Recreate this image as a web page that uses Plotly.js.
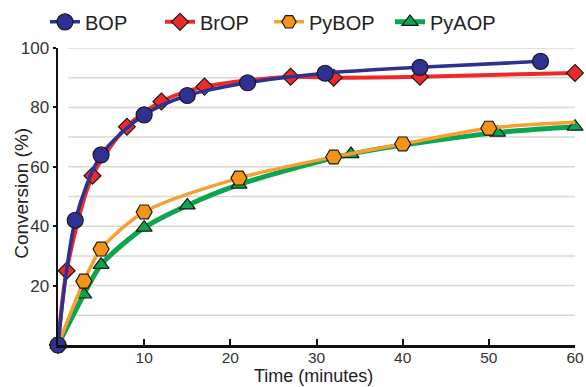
<!DOCTYPE html>
<html>
<head>
<meta charset="utf-8">
<script src="https://cdn.plot.ly/plotly-3.0.1.min.js"></script>
<style>html,body{margin:0;padding:0;background:#fff;}#chart{width:586px;height:387px;}</style>
</head>
<body>
<div id="chart"></div>
<script>
// Data
const bopTime = [0, 2, 5, 10, 15, 22, 31, 42, 56];
const bopConv = [0, 42, 64, 77.5, 84, 88.3, 91.5, 93.5, 95.5];

const bropTime = [0, 1, 4, 8, 12, 17, 27, 32, 42, 60];
const bropConv = [0, 25, 57, 73.5, 82, 87, 90.3, 90, 90.3, 91.6];

const pybopTime = [0, 3, 5, 10, 21, 32, 40, 50, 60];
const pybopConv = [0, 21.5, 32.3, 44.8, 56.2, 63.3, 67.7, 73, 75];
const pybopMarked = [true, true, true, true, true, true, true, true, false];

const pyaopTime = [0, 3, 5, 10, 15, 21, 34, 51, 60];
const pyaopConv = [0, 17, 27, 39.5, 47, 54, 64.3, 71.5, 73.5];

const yTicks = [20, 40, 60, 80, 100];
const xTicks = [10, 20, 30, 40, 50, 60];
const gridLevels = [10, 20, 30, 40, 50, 60, 70, 80, 90, 100];
const xTitle = 'Time (minutes)';
const yTitle = 'Conversion (%)';

const outline = {color: '#1a1a1a', width: 1.2};

const traces = [
  {
    name: 'PyAOP', x: pyaopTime, y: pyaopConv, mode: 'lines+markers', legend: 'legend4', cliponaxis: false,
    line: {color: '#0aa64f', width: 5, shape: 'spline', smoothing: 0.8},
    marker: {symbol: 'triangle-up', size: 14, color: '#0aa64f', line: outline}
  },
  {
    name: 'PyBOP', x: pybopTime, y: pybopConv, mode: 'lines+markers', legend: 'legend3', cliponaxis: false,
    line: {color: '#f5a030', width: 3.5, shape: 'spline', smoothing: 0.8},
    marker: {symbol: 'hexagon2', size: pybopMarked.map(m => m ? 16 : 0), color: '#f39419', opacity: 1, line: outline}
  },
  {
    name: 'BrOP', x: bropTime, y: bropConv, mode: 'lines+markers', legend: 'legend2', cliponaxis: false,
    line: {color: '#ec2a2a', width: 4, shape: 'spline', smoothing: 0.8},
    marker: {symbol: 'diamond', size: 13, color: '#ec2a2a', line: outline}
  },
  {
    name: 'BOP', x: bopTime, y: bopConv, mode: 'lines+markers', legend: 'legend', cliponaxis: false,
    line: {color: '#2e3192', width: 3.5, shape: 'spline', smoothing: 0.8},
    marker: {symbol: 'circle', size: 16, color: '#2e3192', line: outline}
  }
];

function leg(px) {
  return {
    orientation: 'h', xref: 'paper', yref: 'paper',
    x: (px - 58) / 517, xanchor: 'left', y: 1.088, yanchor: 'middle',
    font: {size: 20, color: '#222222'},
    bgcolor: 'rgba(0,0,0,0)', borderwidth: 0
  };
}

const layout = {
  width: 586, height: 387,
  margin: {l: 58, r: 11, t: 48, b: 42, autoexpand: false},
  paper_bgcolor: '#ffffff', plot_bgcolor: '#ffffff',
  font: {family: 'Liberation Sans, Arial, sans-serif', color: '#333333', size: 14},
  showlegend: true,
  legend: leg(45), legend2: leg(160), legend3: leg(269), legend4: leg(390),
  xaxis: {
    range: [0, 60], tickvals: xTicks, ticktext: xTicks.map(String),
    ticks: 'inside', ticklen: 6, tickwidth: 2, tickcolor: '#111',
    showline: true, linecolor: '#111', linewidth: 2.5,
    showgrid: false, zeroline: false, ticklabelstandoff: -3,
    tickfont: {size: 15.5, color: '#333'}
  },
  yaxis: {
    range: [0, 100], tickvals: yTicks, ticktext: yTicks.map(String),
    ticks: 'outside', ticklen: 3, tickwidth: 2, tickcolor: '#111',
    showline: true, linecolor: '#111', linewidth: 2.5,
    showgrid: false, zeroline: false,
    tickfont: {size: 17, color: '#333'}
  },
  annotations: [
    {text: xTitle, xref: 'paper', yref: 'paper', x: 0.495, y: -0.105, xanchor: 'center', yanchor: 'middle',
     showarrow: false, font: {size: 18, color: '#222'}},
    {text: yTitle, xref: 'paper', yref: 'paper', x: -0.071, y: 0.51, xanchor: 'center', yanchor: 'middle',
     textangle: -90, showarrow: false, font: {size: 19, color: '#222'}}
  ],
  shapes: gridLevels.map(v => ({
    type: 'line', xref: 'paper', yref: 'y', x0: 0.02, x1: 1, y0: v, y1: v,
    line: {color: '#ddd6cf', width: 1.5}, layer: 'below'
  }))
};

Plotly.newPlot('chart', traces, layout, {displayModeBar: false, staticPlot: true});
</script>
</body>
</html>
